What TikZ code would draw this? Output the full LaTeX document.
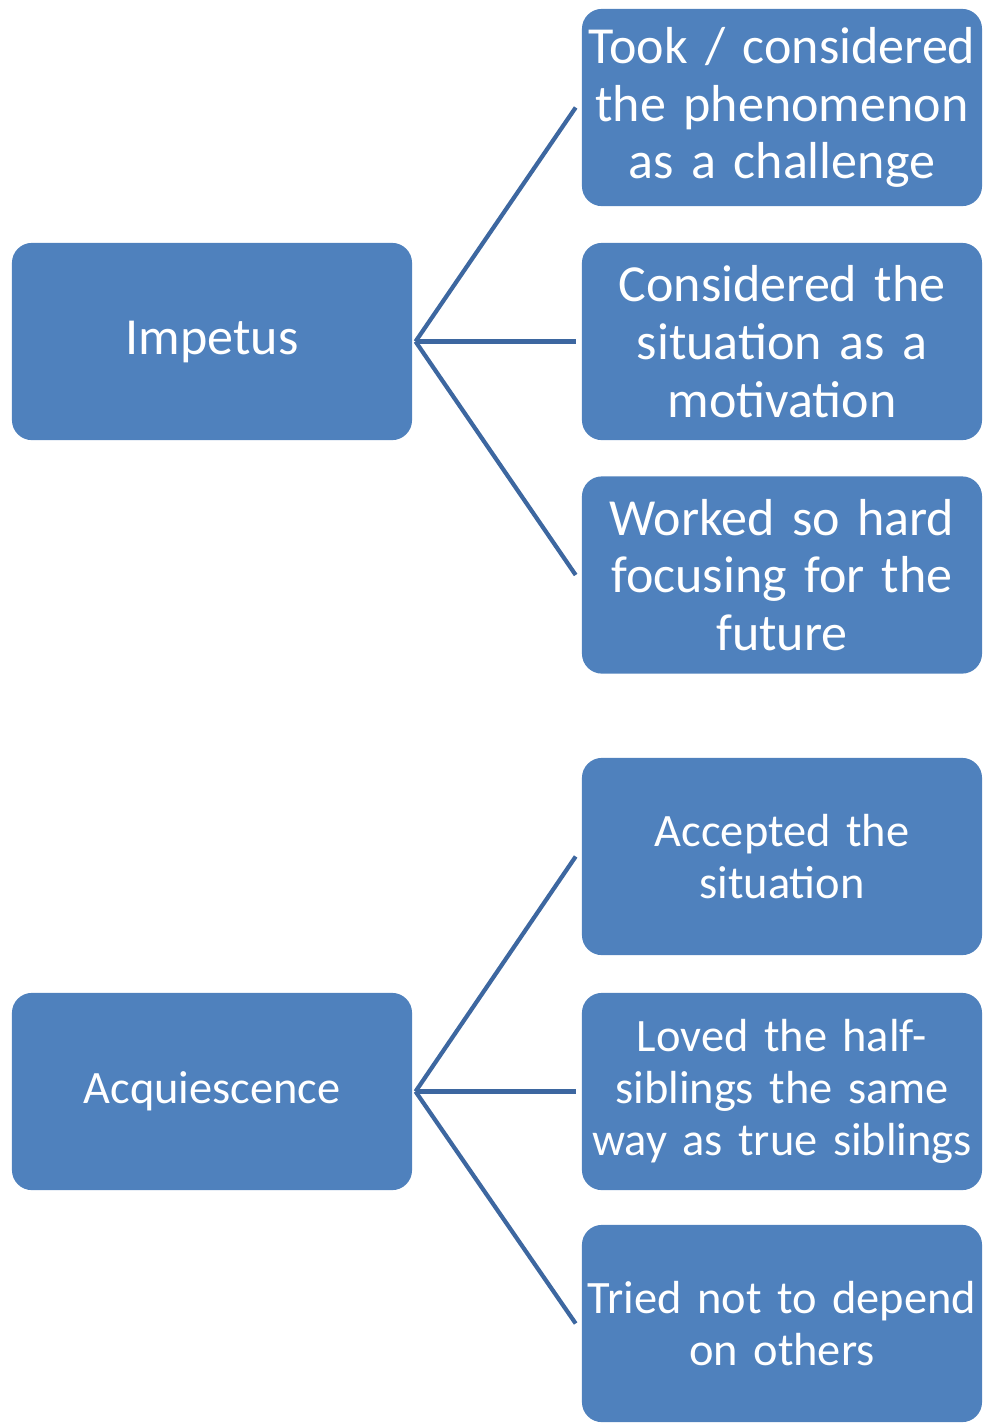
\documentclass[tikz,border=0pt]{standalone}
\usepackage{fontspec}
\setmainfont{Carlito}
\newfontfamily\boxfont[WordSpace=0.6]{Carlito}
\definecolor{boxblue}{HTML}{4F81BD}
\definecolor{lineblue}{HTML}{3D67A0}
\begin{document}
\begin{tikzpicture}[x=0.025cm, y=-0.025cm,
		theme/.style={draw=none, fill=boxblue, rounded corners=0.5cm, minimum width=10cm, minimum height=4.93cm, text width=10cm, align=center, inner sep=0pt, text=white, font=\boxfont\fontsize{37}{41}\selectfont},
		item/.style={theme},
		tight/.style={font=\boxfont\fontsize{33}{37}\selectfont},
		link/.style={lineblue, line width=3pt}]
			% page size of the original
			\useasboundingbox (0,0) rectangle (982,1423);
			% Draw the two themes
			\node[theme] (imp) at (212,341.5) {Impetus};
			\node[theme, tight] (acq) at (212,1091.5) {Acquiescence};
			% sub-themes of the first one
			\node[item] (took) at (782,107.5) {Took / considered\\the phenomenon\\as a challenge};
			\node[item] (cons) at (782,341.5) {Considered the\\situation as a\\motivation};
			\node[item] (work) at (782,575) {Worked so hard\\focusing for the\\future};
			% sub-themes of the second one
			\node[item, tight] (acc) at (782,856.5) {Accepted the\\situation};
			\node[item, tight] (love) at (782,1091.5) {Loved the half-\\siblings the same\\way as true siblings};
			\node[item, tight] (tried) at (782,1323.5) {Tried not to depend\\on others};
			% connectors
			\draw[link] ([xshift=0.08cm]imp.east) -- ([xshift=-0.15cm]took.west);
			\draw[link] ([xshift=0.08cm]imp.east) -- ([xshift=-0.15cm]cons.west);
			\draw[link] ([xshift=0.08cm]imp.east) -- ([xshift=-0.15cm]work.west);
			\draw[link] ([xshift=0.08cm]acq.east) -- ([xshift=-0.15cm]acc.west);
			\draw[link] ([xshift=0.08cm]acq.east) -- ([xshift=-0.15cm]love.west);
			\draw[link] ([xshift=0.08cm]acq.east) -- ([xshift=-0.15cm]tried.west);
		\end{tikzpicture}
\end{document}
